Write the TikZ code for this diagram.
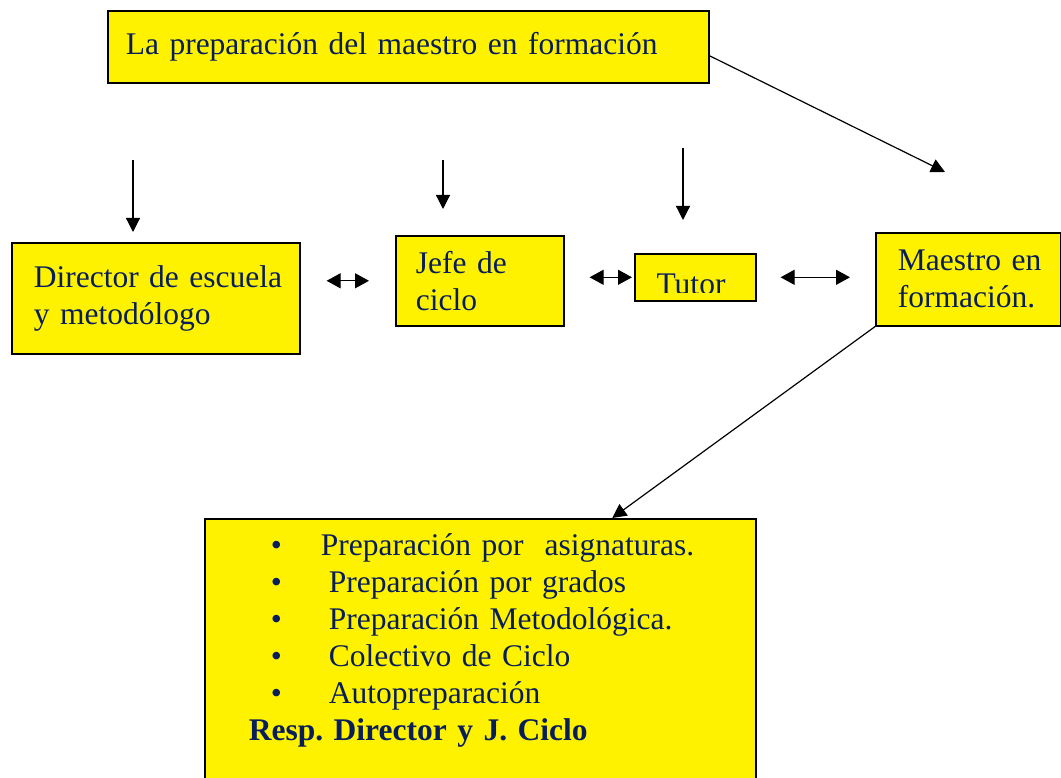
\documentclass[tikz,border=0pt]{standalone}
\usepackage{fontspec}
\setmainfont{Liberation Serif}
\usetikzlibrary{arrows.meta}
\definecolor{navy}{RGB}{8,30,90}
\frenchspacing

\begin{document}
\begin{tikzpicture}[x=1pt,y=-1pt,
  box/.style={draw, line width=1.6pt, fill=yellow, text=navy, align=left,
    anchor=north west, inner ysep=0pt, font=\fontsize{31.5}{37}\selectfont},
  tip/.style={-{Triangle[length=14pt,width=14pt]}, line width=1.2pt},
  both/.style={{Triangle[length=14pt,width=15pt]}-{Triangle[length=14pt,width=15pt]}, line width=1.2pt}]
\useasboundingbox (0,0) rectangle (1061,778);

\node[box, minimum width=601pt, minimum height=72pt, inner xsep=18pt, text width=565pt] (top) at (107,10) {La preparación del maestro en formación};
\node[box, minimum width=288pt, minimum height=111pt, inner xsep=22pt, text width=244pt] (dir) at (11,242) {\mbox{Director de escuela}\\y metodólogo};
\node[box, minimum width=168pt, minimum height=90pt, inner xsep=20pt, text width=128pt] (jefe) at (395,235) {Jefe de\\ciclo};
\node[box, minimum width=121pt, minimum height=47pt,
  path picture={\node[draw=none, fill=none, inner sep=0pt, minimum width=0pt, minimum height=0pt,
    anchor=base west, text=navy, font=\fontsize{31.5}{37}\selectfont]
    at ([xshift=21pt,yshift=6pt]path picture bounding box.south west) {Tutor};
    \fill[yellow] (path picture bounding box.south west) rectangle ([yshift=8pt]path picture bounding box.south east);}] (tutor) at (634,253) {};
\node[box, minimum width=185pt, minimum height=93pt, inner xsep=22pt, text width=141pt] (maestro) at (875,232) {\mbox{Maestro en}\\\mbox{formación.}};
\node[box, inner xsep=44pt, inner ysep=15pt, text width=463pt] (list) at (204,518) {%
  \hspace*{22pt}\makebox[50pt][l]{•}Preparación por\ \ asignaturas.\\
  \hspace*{22pt}\makebox[58pt][l]{•}Preparación por grados\\
  \hspace*{22pt}\makebox[58pt][l]{•}Preparación Metodológica.\\
  \hspace*{22pt}\makebox[58pt][l]{•}Colectivo de Ciclo\\
  \hspace*{22pt}\makebox[58pt][l]{•}Autopreparación\\
  \textbf{Resp. Director y J. Ciclo}\rule[-35pt]{0pt}{35pt}};

\coordinate (a1) at (133,160);
\coordinate (b1) at (133,232);
\coordinate (a2) at (443,160);
\coordinate (b2) at (443,209);
\coordinate (a3) at (683,148);
\coordinate (b3) at (683,220);
\coordinate (m) at (945,172);

\path[tip]
(a1) edge (b1)
(a2) edge (b2)
(a3) edge (b3)
([yshift=-9pt]top.east) edge (m)
(maestro.south west) edge ([xshift=132pt]list.north)
; %end path

\path[both]
(dir.east |- jefe.west) edge[shorten <=26pt, shorten >=26pt] (jefe.west)
(jefe.east |- tutor.west) edge[shorten <=25pt, shorten >=2pt] (tutor.west)
(tutor.east) edge[shorten <=24pt, shorten >=25pt] (maestro.west |- tutor.east)
; %end path
\end{tikzpicture}
\end{document}
